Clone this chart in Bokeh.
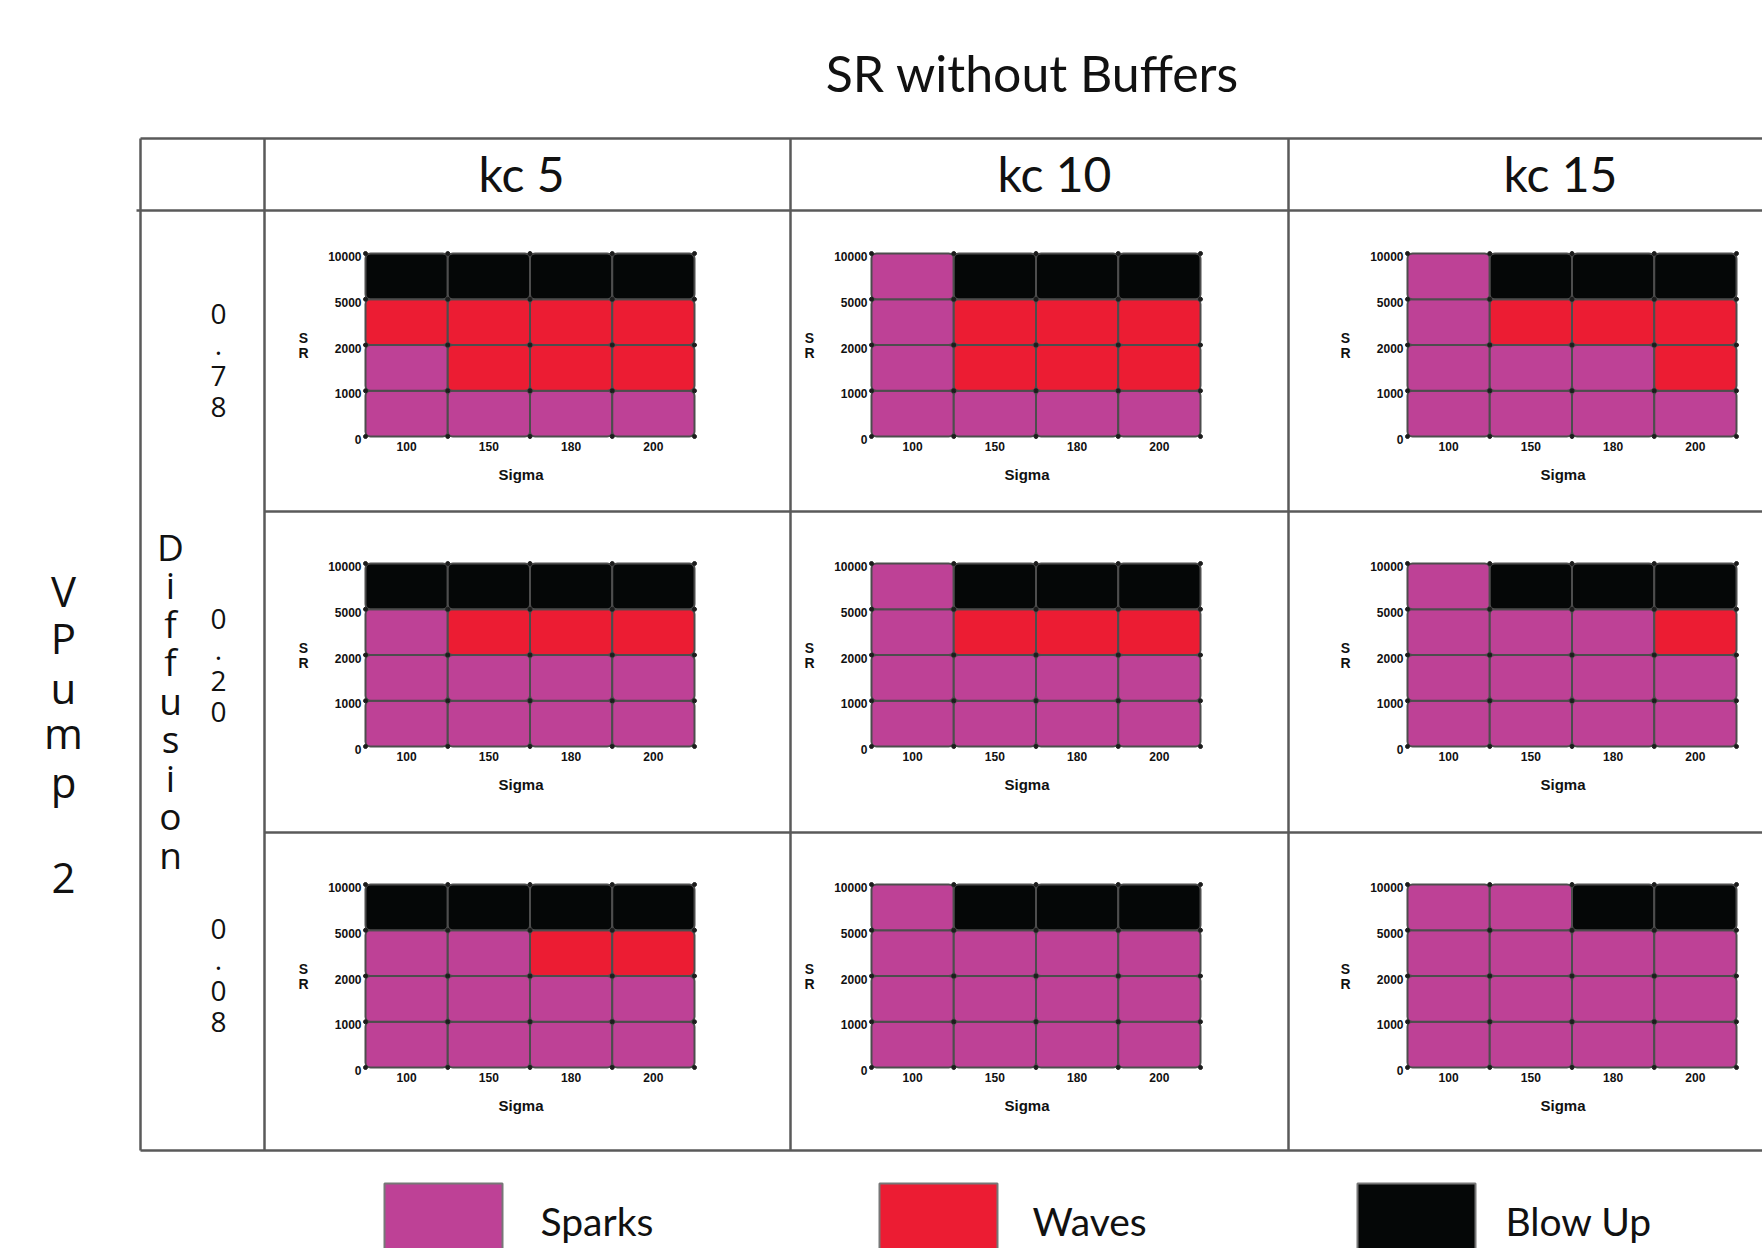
from bokeh.plotting import figure
from bokeh.models import Range1d, ColumnDataSource, Quad
from bokeh.core.properties import value
from bokeh.embed import file_html
from bokeh.resources import INLINE

# ---------------- data ----------------
title_text = "SR without Buffers"
kc_labels = ["kc 5", "kc 10", "kc 15"]
diffusion_values = ["0.78", "0.20", "0.08"]
row_group_label = "VPump 2"
col_group_label = "Diffusion"
sigma_labels = ["100", "150", "180", "200"]
sr_tick_labels = ["0", "1000", "2000", "5000", "10000"]
outcome_codes = ["S", "W", "B"]
outcome_names = ["Sparks", "Waves", "Blow Up"]
outcome_colors = ["#BE4196", "#EC1C33", "#050707"]

# outcome per SR band (rows: 0-1000, 1000-2000, 2000-5000, 5000-10000), columns = sigma
d078_kc5 = [["S", "S", "S", "S"], ["S", "W", "W", "W"], ["W", "W", "W", "W"], ["B", "B", "B", "B"]]
d078_kc10 = [["S", "S", "S", "S"], ["S", "W", "W", "W"], ["S", "W", "W", "W"], ["S", "B", "B", "B"]]
d078_kc15 = [["S", "S", "S", "S"], ["S", "S", "S", "W"], ["S", "W", "W", "W"], ["S", "B", "B", "B"]]
d020_kc5 = [["S", "S", "S", "S"], ["S", "S", "S", "S"], ["S", "W", "W", "W"], ["B", "B", "B", "B"]]
d020_kc10 = [["S", "S", "S", "S"], ["S", "S", "S", "S"], ["S", "W", "W", "W"], ["S", "B", "B", "B"]]
d020_kc15 = [["S", "S", "S", "S"], ["S", "S", "S", "S"], ["S", "S", "S", "W"], ["S", "B", "B", "B"]]
d008_kc5 = [["S", "S", "S", "S"], ["S", "S", "S", "S"], ["S", "S", "W", "W"], ["B", "B", "B", "B"]]
d008_kc10 = [["S", "S", "S", "S"], ["S", "S", "S", "S"], ["S", "S", "S", "S"], ["S", "B", "B", "B"]]
d008_kc15 = [["S", "S", "S", "S"], ["S", "S", "S", "S"], ["S", "S", "S", "S"], ["S", "S", "B", "B"]]

panels = [[d078_kc5, d078_kc10, d078_kc15],
          [d020_kc5, d020_kc10, d020_kc15],
          [d008_kc5, d008_kc10, d008_kc15]]

# ---------------- layout (page pixels) ----------------
W, H = 1762, 1248
X0, X1, Y0, Y1 = 0, W, 0, H
panel_lefts = [365, 871, 1407]
panel_tops = [253, 563, 884]
panel_w, panel_h = 329, 183

LINE = "#5a5a5a"
TXT = "#111111"

p = figure(width=W, height=H, x_range=Range1d(X0, X1), y_range=Range1d(Y1, Y0),
           output_backend="svg", toolbar_location=None, x_axis_location=None,
           y_axis_location=None, min_border=0, outline_line_color=None)
p.xgrid.visible = False
p.ygrid.visible = False
p.background_fill_color = "white"

# ---------------- table frame ----------------
vx = [140, 264, 790, 1288]
p.segment(x0=vx, y0=[138] * 4, x1=vx, y1=[1150] * 4, line_color=LINE, line_width=2.5)
p.segment(x0=[140, 136, 264, 264, 140], y0=[138, 210, 511, 832, 1150],
          x1=[X1] * 5, y1=[138, 210, 511, 832, 1150], line_color=LINE, line_width=2.5)

# ---------------- titles ----------------
p.text(x=[1032], y=[72], text=[title_text], text_font=value("Lato"), text_font_size="50px",
       text_align="center", text_baseline="middle", text_color=TXT)
p.text(x=[521, 1054, 1560], y=[173] * 3, text=kc_labels, text_font=value("Lato"),
       text_font_size="48px", text_align="center", text_baseline="middle", text_color=TXT)

# VPump 2 stacked letters
vp_chars = [c for c in row_group_label if c != " "]
vp_base = [605, 652, 702, 747, 796, 892]
p.text(x=[63] * len(vp_chars), y=[b - 15 for b in vp_base], text=vp_chars,
       text_font=value("Open Sans"), text_font_size="42px", text_align="center",
       text_baseline="middle", text_color=TXT)

# Diffusion stacked letters
df_chars = list(col_group_label)
df_base = [559, 597, 636, 674, 713, 751, 790, 828, 867]
p.text(x=[170] * len(df_chars), y=[b - 13 for b in df_base], text=df_chars,
       text_font=value("Open Sans"), text_font_size="37px", text_align="center",
       text_baseline="middle", text_color=TXT)

# diffusion values stacked
dv_y0 = [313, 618, 928]
for val, y0 in zip(diffusion_values, dv_y0):
    chars = list(val)
    ys = [y0, y0 + 31, y0 + 62, y0 + 93]
    p.text(x=[218] * 4, y=ys, text=chars, text_font=value("Open Sans"), text_font_size="28px",
           text_align="center", text_baseline="middle", text_color=TXT)

# ---------------- panels ----------------
code_to_color = dict(zip(outcome_codes, outcome_colors))
for r in range(3):
    for c in range(3):
        data = panels[r][c]
        L = panel_lefts[c]
        T = panel_tops[r]
        B = T + panel_h
        ncol = len(sigma_labels)
        nrow = len(data)
        ppx = panel_w / ncol
        ppy = panel_h / nrow
        xn, yn = f"x{r}{c}", f"y{r}{c}"
        p.extra_x_ranges[xn] = Range1d((X0 - L) / ppx, (X1 - L) / ppx)
        p.extra_y_ranges[yn] = Range1d((B - Y1) / ppy, (B - Y0) / ppy)

        left, right, bottom, top, color = [], [], [], [], []
        for i, band in enumerate(data):
            for j, code in enumerate(band):
                left.append(j)
                right.append(j + 1)
                bottom.append(i)
                top.append(i + 1)
                color.append(code_to_color[code])
        src = ColumnDataSource(dict(left=left, right=right, bottom=bottom, top=top, color=color))
        rr = p.quad(left="left", right="right", bottom="bottom", top="top", fill_color="color",
                    line_color="#4d4d4d", line_width=2, source=src,
                    x_range_name=xn, y_range_name=yn)
        if "border_radius" in Quad.properties():
            rr.glyph.border_radius = 5

        # intersection dots
        dx, dy = [], []
        for i in range(nrow + 1):
            for j in range(ncol + 1):
                dx.append(j)
                dy.append(i)
        p.scatter(x=dx, y=dy, size=4, color="#1c1c1c", x_range_name=xn, y_range_name=yn)

        # y tick labels
        p.text(x=[0] * len(sr_tick_labels), y=list(range(len(sr_tick_labels))), text=sr_tick_labels,
               x_offset=-4, y_offset=3, text_font=value("Liberation Sans"), text_font_style="bold",
               text_font_size="12px", text_align="right", text_baseline="middle", text_color=TXT,
               x_range_name=xn, y_range_name=yn)
        # x tick labels
        p.text(x=[j + 0.5 for j in range(ncol)], y=[0] * ncol, text=sigma_labels,
               y_offset=10, text_font=value("Liberation Sans"), text_font_style="bold",
               text_font_size="12px", text_align="center", text_baseline="middle", text_color=TXT,
               x_range_name=xn, y_range_name=yn)
        # axis names
        p.text(x=[L + panel_w / 2 - 9], y=[B + 38], text=["Sigma"], text_font=value("Liberation Sans"),
               text_font_size="15px", text_font_style="bold", text_align="center",
               text_baseline="middle", text_color=TXT)
        p.text(x=[L - 62, L - 62], y=[T + panel_h / 2 - 7, T + panel_h / 2 + 8], text=["S", "R"],
               text_font=value("Liberation Sans"), text_font_size="14px", text_font_style="bold",
               text_align="center", text_baseline="middle", text_color=TXT)

# ---------------- legend ----------------
leg_left = [384, 879, 1357]
leg_text_x = [540, 1032, 1505]
p.quad(left=leg_left, right=[l + 118 for l in leg_left], top=[1183] * 3, bottom=[1262] * 3,
       fill_color=outcome_colors, line_color="#777777", line_width=2)
p.text(x=leg_text_x, y=[1220] * 3, text=outcome_names, text_font=value("Lato"),
       text_font_size="39px", text_align="left", text_baseline="middle", text_color=TXT)

open("out.html", "w").write(file_html(p, INLINE))
